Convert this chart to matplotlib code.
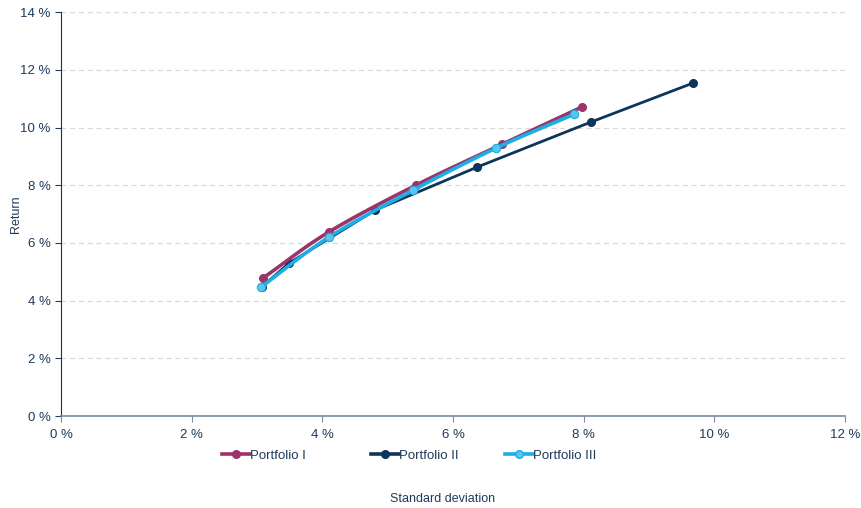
import numpy as np
import matplotlib.pyplot as plt
from matplotlib.ticker import FuncFormatter, MultipleLocator

plt.rcParams['font.family'] = ['Liberation Sans', 'DejaVu Sans']

# standard deviation / return pairs, in percent
p1_std = [3.09, 4.10, 5.43, 6.75, 7.97]
p1_ret = [4.78, 6.38, 8.00, 9.42, 10.71]

p2_std = [3.07, 3.49, 4.81, 6.37, 8.11, 9.67]
p2_ret = [4.47, 5.30, 7.14, 8.63, 10.19, 11.54]

p3_std = [3.06, 4.10, 5.39, 6.66, 7.85]
p3_ret = [4.47, 6.20, 7.83, 9.29, 10.46]

names = ['Portfolio I', 'Portfolio II', 'Portfolio III']

TEXT = '#1f3a5a'


def smooth(xs, ys, n=20):
    # Catmull-Rom curve through the points, for the smoothed lines
    p = np.column_stack([xs, ys]).astype(float)
    p = np.vstack([2 * p[0] - p[1], p, 2 * p[-1] - p[-2]])
    out = []
    t = np.linspace(0, 1, n)[:, None]
    for i in range(1, len(p) - 2):
        p0, p1, p2, p3 = p[i - 1], p[i], p[i + 1], p[i + 2]
        seg = 0.5 * ((2 * p1) + (-p0 + p2) * t + (2 * p0 - 5 * p1 + 4 * p2 - p3) * t ** 2
                     + (-p0 + 3 * p1 - 3 * p2 + p3) * t ** 3)
        out.append(seg)
    c = np.vstack(out)
    return c[:, 0], c[:, 1]


fig = plt.figure(figsize=(8.61, 5.08), dpi=100)
ax = fig.add_axes([0.0708, 0.181, 0.9106, 0.795])

purple = '#9b3468'
navy = '#0d3558'
cyan = '#1aafe6'

sx, sy = smooth(p1_std, p1_ret)
ax.plot(sx, sy, color=purple, lw=2.6, zorder=3, solid_capstyle='round')
ax.plot(p1_std, p1_ret, 'o', color=purple, ms=5.5, zorder=3)

ax.plot(p2_std, p2_ret, '-o', color=navy, lw=2.0, ms=5.5, zorder=2)

sx, sy = smooth(p3_std, p3_ret)
ax.plot(sx, sy, color=cyan, lw=2.6, zorder=4, solid_capstyle='round')
ax.plot(p3_std, p3_ret, 'o', color='#5cc4ed', mec=cyan, mew=0.8, ms=6, zorder=4)

ax.set_xlim(0, 12)
ax.set_ylim(0, 14)
ax.xaxis.set_major_locator(MultipleLocator(2))
ax.yaxis.set_major_locator(MultipleLocator(2))
fmt = FuncFormatter(lambda v, _: f'{v:.0f} %')
ax.xaxis.set_major_formatter(fmt)
ax.yaxis.set_major_formatter(fmt)

ax.grid(axis='y', color='#d9d9d9', ls=(0, (4, 3)), lw=0.9)
ax.set_axisbelow(True)
for s in ('top', 'right'):
    ax.spines[s].set_visible(False)
ax.spines['left'].set_color(navy)
ax.spines['bottom'].set_color('#7a8ba0')
ax.spines['bottom'].set_linewidth(1.2)
ax.tick_params(axis='both', colors=TEXT, labelsize=9.5, length=4, width=0.8)
ax.tick_params(axis='x', color='#7a8ba0', pad=5)

ax.set_ylabel('Return', color=TEXT, fontsize=9)
ax.yaxis.set_label_coords(-0.050, 0.5)
fig.text(0.514, 0.012, 'Standard deviation', color=TEXT, fontsize=9, ha='center')

# one legend entry each, placed along the bottom
h1, = ax.plot([], [], '-o', color=purple, lw=2.6, ms=5.5)
h2, = ax.plot([], [], '-o', color=navy, lw=2.6, ms=5.5)
h3, = ax.plot([], [], '-o', color=cyan, mfc='#5cc4ed', lw=2.6, ms=5.5)
for h, name, x in zip([h1, h2, h3], names, [0.258, 0.431, 0.5865]):
    leg = fig.legend([h], [name], loc='center left', bbox_to_anchor=(x, 0.1024),
                     frameon=False, fontsize=9.5, handlelength=2.1, handletextpad=0.0,
                     borderpad=0, borderaxespad=0)
    for t in leg.get_texts():
        t.set_color(TEXT)

fig.savefig('out.png', dpi=100)
